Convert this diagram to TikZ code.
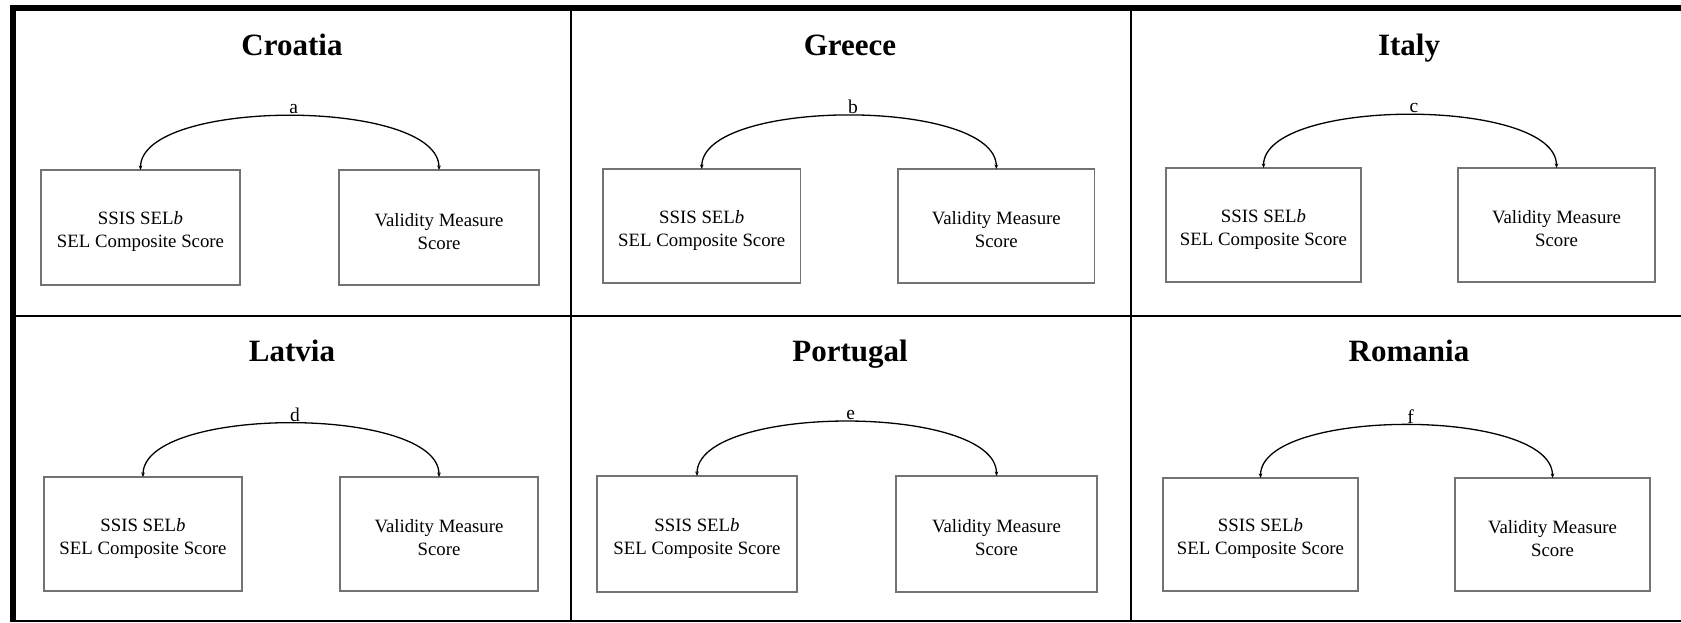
\documentclass[tikz,border=0pt]{standalone}
\usepackage{fontspec}
\setmainfont{Liberation Serif}
\usetikzlibrary{arrows.meta}
\newcommand\tgap{\rule{0pt}{21pt}}
\begin{document}
\begin{tikzpicture}[x=1pt,y=-1pt,
  selbox/.style={draw=black!55, line width=1.1pt, inner sep=0pt, outer sep=0pt,
    align=center, font=\fontsize{18.8}{23}\selectfont},
  ctitle/.style={anchor=base, inner sep=0pt, font=\fontsize{31}{37}\selectfont\bfseries},
  lbl/.style={anchor=base, inner sep=0pt, xshift=4pt, yshift=2pt, font=\fontsize{19.5}{23}\selectfont},
  link/.style={line width=1.3pt, {Stealth[length=4.5pt,width=3.6pt]}-{Stealth[length=4.5pt,width=3.6pt]},
    out=90, in=90, looseness=0.62},
  frame/.style={line width=6pt, black},
  divider/.style={line width=2pt, black}
]
\useasboundingbox (0,0) rectangle (1681,622);
% frame and grid
\draw[frame] (10,8) -- (1681,8);
\draw[frame] (13,5) -- (13,622);
\draw[line width=1.6pt] (16,621) -- (1681,621);
\draw[divider] (571,11) -- (571,621);
\draw[divider] (1131,11) -- (1131,621);
\draw[divider] (16,316) -- (1681,316);

% Croatia
\node[ctitle] (t1) at (292,55) {Croatia};
\node[selbox, minimum width=199pt, minimum height=115pt] (l1) at (140.5,227.5) {\tgap SSIS SEL\textit{b}\\SEL Composite Score};
\node[selbox, minimum width=200pt, minimum height=115pt] (r1) at (439,227.5) {\tgap Validity Measure\\Score};
\draw[link] (l1.north) to node[lbl, midway] {a} (r1.north);

% Greece
\node[ctitle] (t2) at (850,55) {Greece};
\node[selbox, minimum width=197.5pt, minimum height=114pt] (l2) at (701.75,226) {\tgap SSIS SEL\textit{b}\\SEL Composite Score};
\node[selbox, minimum width=196.6pt, minimum height=114pt] (r2) at (996.3,226) {\tgap Validity Measure\\Score};
\draw[link] (l2.north) to node[lbl, midway] {b} (r2.north);

% Italy
\node[ctitle] (t3) at (1409,55) {Italy};
\node[selbox, minimum width=195pt, minimum height=114pt] (l3) at (1263.5,225) {\tgap SSIS SEL\textit{b}\\SEL Composite Score};
\node[selbox, minimum width=197pt, minimum height=114pt] (r3) at (1556.5,225) {\tgap Validity Measure\\Score};
\draw[link] (l3.north) to node[lbl, midway] {c} (r3.north);

% Latvia
\node[ctitle] (t4) at (292,361) {Latvia};
\node[selbox, minimum width=198pt, minimum height=114pt] (l4) at (143,534) {\tgap SSIS SEL\textit{b}\\SEL Composite Score};
\node[selbox, minimum width=198pt, minimum height=114pt] (r4) at (439,534) {\tgap Validity Measure\\Score};
\draw[link] (l4.north) to node[lbl, midway] {d} (r4.north);

% Portugal
\node[ctitle] (t5) at (850,361) {Portugal};
\node[selbox, minimum width=200pt, minimum height=116pt] (l5) at (697,534) {\tgap SSIS SEL\textit{b}\\SEL Composite Score};
\node[selbox, minimum width=201pt, minimum height=116pt] (r5) at (996.5,534) {\tgap Validity Measure\\Score};
\draw[link] (l5.north) to node[lbl, midway] {e} (r5.north);

% Romania
\node[ctitle] (t6) at (1409,361) {Romania};
\node[selbox, minimum width=195pt, minimum height=113pt] (l6) at (1260.5,534.5) {\tgap SSIS SEL\textit{b}\\SEL Composite Score};
\node[selbox, minimum width=195pt, minimum height=113pt] (r6) at (1552.5,534.5) {\tgap Validity Measure\\Score};
\draw[link] (l6.north) to node[lbl, midway] {f} (r6.north);
\end{tikzpicture}
\end{document}
